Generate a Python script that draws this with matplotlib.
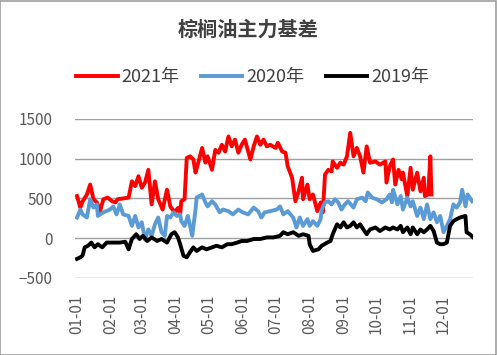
import numpy as np
import matplotlib
matplotlib.use("Agg")
import matplotlib.pyplot as plt
from matplotlib.patches import Rectangle

plt.rcParams['font.family'] = ['Noto Sans CJK SC', 'DejaVu Sans']

# day of year (0 = 01-01) and basis values
days_2021 = [0, 3, 5, 9, 12, 15, 18, 21, 24, 28, 32, 35, 37, 42, 47, 50, 53, 56, 59, 62,
             65, 68, 71, 74, 78, 82, 85, 89, 92, 94, 95, 98, 100, 103, 106, 108, 110, 114,
             117, 119, 123, 126, 129, 132, 135, 138, 141, 144, 147, 150, 153, 158, 161,
             164, 167, 170, 173, 176, 181, 183, 187, 190, 192, 196, 199, 202, 205, 206,
             210, 212, 215, 219, 222, 224, 226, 229, 232, 233, 237, 240, 243, 246, 249,
             252, 255, 258, 261, 264, 267, 272, 276, 281, 282, 285, 288, 290, 293, 296,
             297, 301, 304, 306, 310, 313, 316, 317, 320, 322, 323]
vals_2021 = [530, 385, 460, 550, 675, 490, 450, 340, 490, 510, 465, 450, 490, 500, 510, 715,
             655, 780, 635, 700, 860, 425, 715, 490, 360, 610, 400, 325, 380, 300, 465, 490,
             1010, 1030, 990, 825, 925, 1135, 950, 1030, 860, 1110, 1075, 1175, 1090, 1280,
             1155, 1240, 1075, 1175, 1240, 990, 1155, 1280, 1175, 1240, 1155, 1175, 1135,
             1200, 1090, 1075, 905, 760, 465, 590, 760, 490, 675, 490, 550, 340, 450, 325,
             800, 860, 840, 965, 885, 950, 925, 1030, 1325, 1030, 1135, 1030, 825, 1155,
             950, 965, 925, 965, 700, 905, 990, 675, 860, 740, 825, 530, 885, 610, 825,
             590, 760, 530, 550, 1030, 550]

days_2020 = [0, 3, 5, 9, 12, 15, 18, 19, 24, 30, 33, 36, 39, 42, 47, 50, 53, 56, 59, 62,
             65, 68, 71, 74, 77, 80, 82, 85, 88, 91, 94, 95, 98, 101, 105, 108, 109, 114,
             117, 119, 123, 126, 130, 133, 138, 142, 147, 151, 156, 161, 165, 168, 171,
             176, 182, 185, 188, 192, 197, 200, 203, 206, 210, 212, 215, 219, 222, 223,
             226, 229, 232, 235, 238, 241, 244, 247, 252, 255, 260, 263, 265, 269, 273,
             278, 282, 285, 287, 288, 292, 295, 297, 301, 304, 306, 310, 313, 316, 319,
             322, 325, 328, 331, 334, 337, 340, 343, 346, 349, 351, 354, 356, 360]
vals_2020 = [260, 360, 300, 260, 490, 385, 425, 280, 325, 360, 400, 300, 425, 300, 280, 155,
             280, 135, 200, -20, 110, 30, 175, 260, 75, 30, 280, 260, 325, 280, 300, 215,
             155, 280, 30, 360, 510, 550, 450, 400, 465, 425, 325, 360, 340, 300, 360, 325,
             300, 385, 340, 260, 325, 340, 360, 400, 300, 340, 260, 135, 260, 155, 240,
             155, 215, 155, 240, 360, 450, 465, 425, 490, 450, 360, 425, 465, 385, 490,
             510, 465, 575, 510, 490, 450, 490, 550, 450, 610, 425, 530, 360, 510, 400,
             465, 280, 385, 240, 425, 240, 325, 200, 280, 75, 155, 240, 425, 385, 450,
             610, 400, 550, 465]

days_2019 = [0, 3, 5, 7, 10, 13, 16, 19, 23, 27, 33, 39, 44, 47, 50, 54, 57, 60, 64, 68,
             73, 77, 82, 86, 89, 92, 94, 97, 100, 103, 106, 109, 114, 118, 123, 127, 132,
             137, 141, 146, 150, 155, 161, 167, 173, 179, 185, 188, 192, 197, 202, 206,
             211, 212, 215, 220, 223, 228, 231, 233, 237, 240, 243, 246, 249, 252, 255,
             258, 261, 264, 267, 272, 276, 281, 285, 288, 292, 295, 297, 301, 304, 306,
             310, 313, 316, 319, 322, 325, 328, 331, 334, 337, 340, 343, 346, 349, 354,
             355, 358, 361]
vals_2019 = [-260, -240, -220, -115, -95, -55, -115, -75, -115, -55, -55, -55, -45, -140,
             -10, 50, -10, 30, -35, 10, -35, -10, -55, 50, 75, 10, -75, -220, -240, -175,
             -115, -160, -115, -140, -115, -95, -115, -75, -75, -55, -35, -35, -10, -10,
             10, 10, 30, 75, 50, 75, 30, 50, 30, -75, -160, -140, -95, -55, -35, 50, 175,
             135, 200, 135, 155, 200, 135, 175, 110, 50, 110, 135, 90, 135, 110, 135, 110,
             155, 75, 135, 50, 135, 50, 110, 75, 110, 155, 90, -55, -75, -75, -55, 155,
             215, 240, 260, 280, 75, 50, 10]

month_days = [0, 31, 59, 90, 120, 151, 181, 212, 243, 273, 304, 334]
month_labels = ['01-01', '02-01', '03-01', '04-01', '05-01', '06-01',
                '07-01', '08-01', '09-01', '10-01', '11-01', '12-01']

fig = plt.figure(figsize=(4.97, 3.55), dpi=100)
ax = fig.add_axes([0.151, 0.217, 0.801, 0.448])

ax.plot(days_2021, vals_2021, color='#FF0000', lw=2.8, label='2021年', zorder=3)
ax.plot(days_2020, vals_2020, color='#5B9BD5', lw=2.8, label='2020年', zorder=4)
ax.plot(days_2019, vals_2019, color='#000000', lw=2.8, label='2019年', zorder=5)

ax.set_xlim(-1.8, 361)
ax.set_ylim(-500, 1500)
ax.set_yticks([-500, 0, 500, 1000, 1500])
ax.set_xticks(month_days)
ax.set_xticklabels(month_labels, rotation=90)
ax.tick_params(axis='both', length=0, labelsize=11, colors='#595959')
ax.tick_params(axis='x', pad=12)
ax.tick_params(axis='y', pad=16)
ax.grid(axis='y', color='#a0a0a0', lw=1)
ax.set_axisbelow(True)
for s in ax.spines.values():
    s.set_visible(False)

fig.text(0.5, 0.918, '棕榈油主力基差', ha='center', va='center',
         fontsize=14.5, color='#404040', fontweight='bold')
fig.legend(loc='center', bbox_to_anchor=(0.508, 0.783), ncol=3, frameon=False,
           fontsize=13, handlelength=2.3, handletextpad=0.2, columnspacing=1.2,
           labelcolor='#404040')

fig.add_artist(Rectangle((0.001, 0.001), 0.997, 0.996, transform=fig.transFigure,
                         fill=False, edgecolor='#a0a0a0', lw=1.2))

fig.savefig('out.png', dpi=100)
